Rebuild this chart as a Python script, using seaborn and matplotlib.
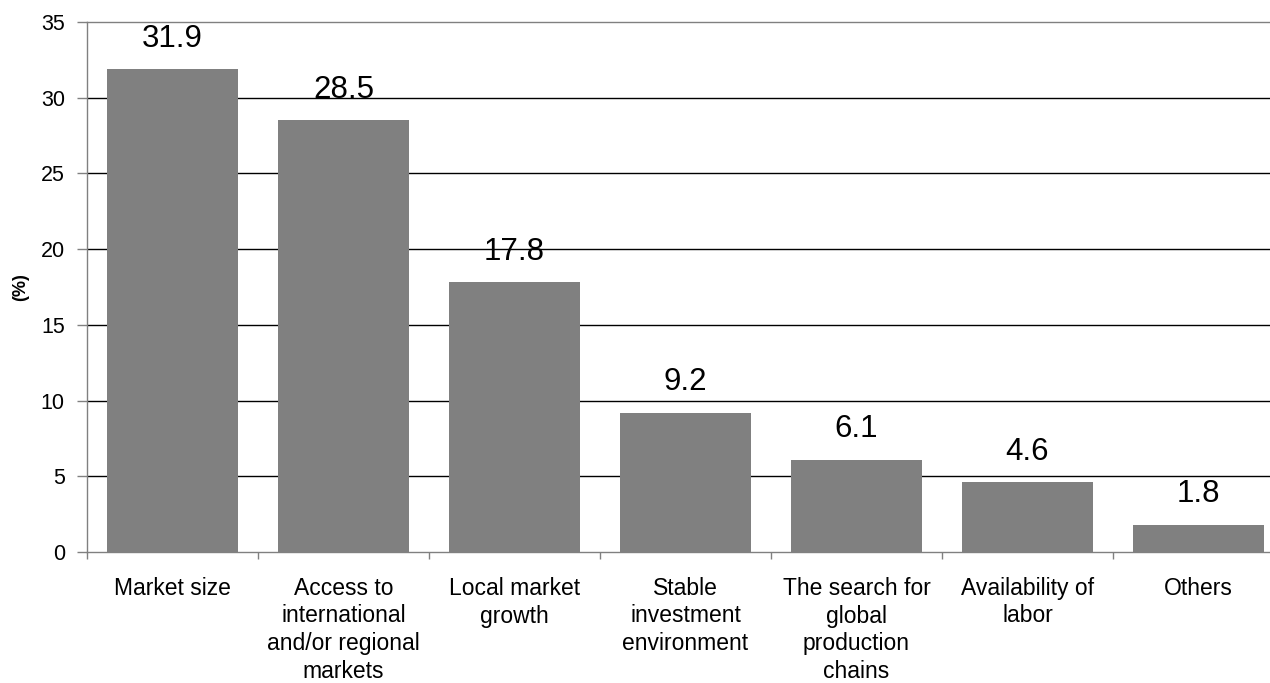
import matplotlib
matplotlib.use("Agg")
import matplotlib.pyplot as plt
import seaborn as sns
import pandas as pd
import numpy as np
from matplotlib.ticker import FixedLocator

categories = ["Market size", "Access to\ninternational\nand/or regional\nmarkets",
              "Local market\ngrowth", "Stable\ninvestment\nenvironment",
              "The search for\nglobal\nproduction\nchains", "Availability of\nlabor", "Others"]
values = [31.9, 28.5, 17.8, 9.2, 6.1, 4.6, 1.8]
yticks = [0, 5, 10, 15, 20, 25, 30, 35]

sns.set_theme(style="white")
plt.rcParams['font.family'] = ['Liberation Sans', 'DejaVu Sans']
plt.rcParams['text.color'] = 'black'
plt.rcParams['axes.labelcolor'] = 'black'
plt.rcParams['xtick.color'] = 'black'
plt.rcParams['ytick.color'] = 'black'

df = pd.DataFrame({"cat": categories, "val": values})

fig = plt.figure(figsize=(12.7, 6.83), dpi=100)
ax = fig.add_axes([87/1270, (683-552)/683, 1197/1270, 530/683])

sns.barplot(data=df, x="cat", y="val", color="#808080", saturation=1, width=0.77,
            ax=ax, zorder=3, edgecolor="none", linewidth=0)

ax.set_ylim(0, 35)
ax.set_xlim(-0.5, len(categories) - 0.5)
ax.set_yticks(yticks)
ax.set_yticklabels([str(t) for t in yticks])
for y in yticks[1:-1]:
    ax.axhline(y, color="black", lw=1, zorder=1)

ax.set_xlabel("")
ax.set_ylabel("(%)", fontsize=13, fontweight="bold", labelpad=8)

for s in ["left", "bottom", "top"]:
    ax.spines[s].set_color("#808080")
    ax.spines[s].set_linewidth(1)
ax.spines["right"].set_visible(False)

ax.tick_params(axis="y", which="major", left=True, length=7, color="#808080", width=1, pad=9, labelsize=15.5)
ax.tick_params(axis="x", which="major", bottom=False, length=0, pad=18)
ax.xaxis.set_minor_locator(FixedLocator(np.arange(-0.5, len(categories), 1.0)))
ax.tick_params(axis="x", which="minor", bottom=True, length=5, color="#808080", width=1)
for lbl in ax.get_xticklabels():
    lbl.set_fontsize(16.5)
    lbl.set_linespacing(1.25)
    lbl.set_verticalalignment("top")

ax.bar_label(ax.containers[0], labels=[f"{v:.1f}" for v in values], padding=11, fontsize=22.5)

fig.savefig("out.png", dpi=100)
